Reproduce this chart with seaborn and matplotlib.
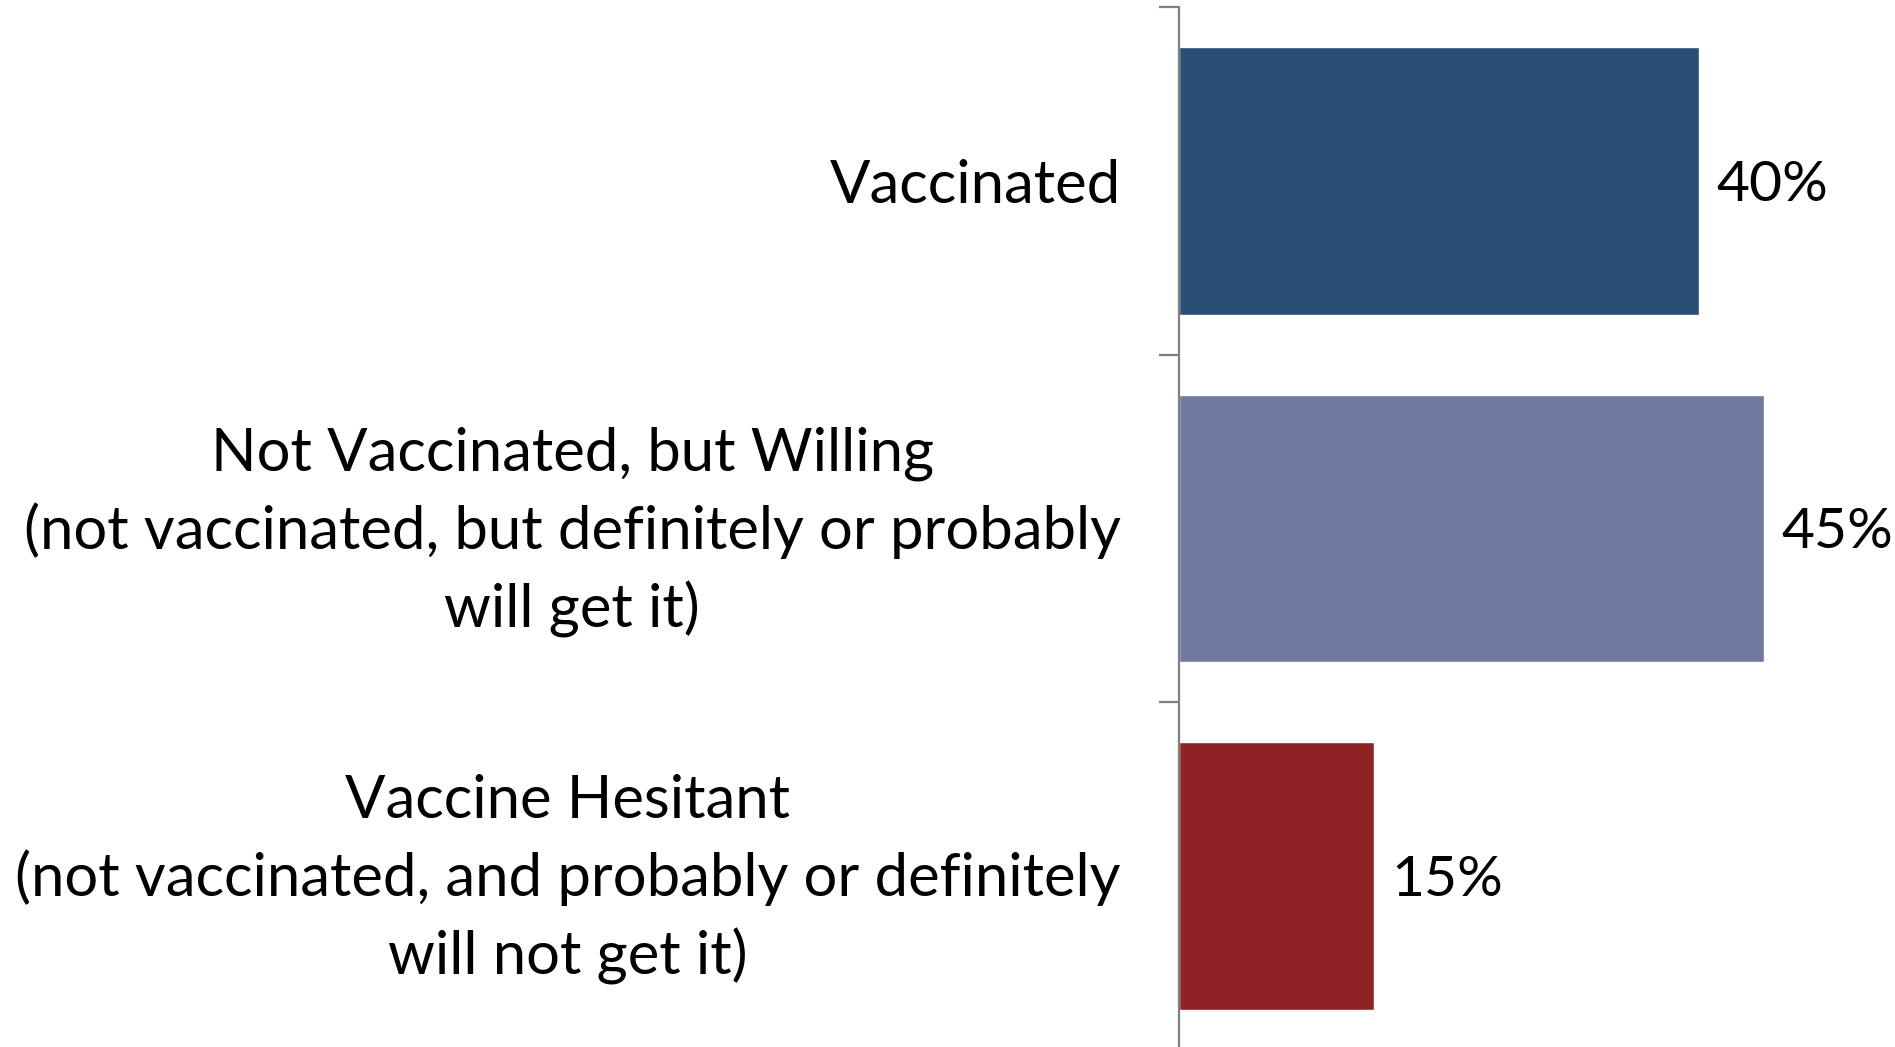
import matplotlib
matplotlib.use("Agg")
import matplotlib.pyplot as plt
import matplotlib.transforms as mtransforms
import seaborn as sns
import pandas as pd

categories = [
    "Vaccinated",
    "Not Vaccinated, but Willing\n(not vaccinated, but definitely or probably\nwill get it)",
    "Vaccine Hesitant\n(not vaccinated, and probably or definitely\nwill not get it)",
]
values = [40, 45, 15]
value_labels = ["40%", "45%", "15%"]
colors = ["#2A4E76", "#6E7B9E", "#8F2323"]

sns.set_theme(style="white")
plt.rcParams["font.family"] = ["Lato", "DejaVu Sans"]

df = pd.DataFrame({"category": categories, "value": values})

fig = plt.figure(figsize=(18.95, 10.47), dpi=100)
ax = fig.add_axes([1179 / 1895, -3 / 1047, 702 / 1895, 1043 / 1047])

sns.barplot(data=df, x="value", y="category", hue="category", palette=colors,
            orient="h", width=0.77, legend=False, ax=ax, saturation=1)

ax.set_xlim(0, 54)
ax.set_ylim(2.5, -0.5)
ax.set_xlabel("")
ax.set_ylabel("")
ax.set_xticks([])

for s in ["top", "right", "bottom"]:
    ax.spines[s].set_visible(False)
ax.spines["left"].set_color("#7F7F7F")
ax.spines["left"].set_linewidth(1.6)

ax.set_yticks([-0.5, 0.5, 1.5, 2.5])
ax.set_yticklabels([])
ax.tick_params(axis="y", which="major", left=True, length=14.5, width=1.6, color="#7F7F7F")
ax.set_yticks(range(len(categories)), minor=True)
ax.set_yticklabels(categories, minor=True, fontsize=43, linespacing=1.46, color="black")
ax.tick_params(axis="y", which="minor", length=0, pad=42)
shift = mtransforms.ScaledTranslation(0, 9 / 72, fig.dpi_scale_trans)
for t in ax.get_yticklabels(minor=True):
    t.set_horizontalalignment("right")
    t.set_multialignment("center")
    if "\n" in t.get_text():
        t.set_transform(t.get_transform() + shift)

for i, (v, lab) in enumerate(zip(values, value_labels)):
    ax.text(v + 1.3, i + 0.012, lab, va="center", ha="left", fontsize=41, color="black", clip_on=False)

fig.savefig("out.png", dpi=100)
